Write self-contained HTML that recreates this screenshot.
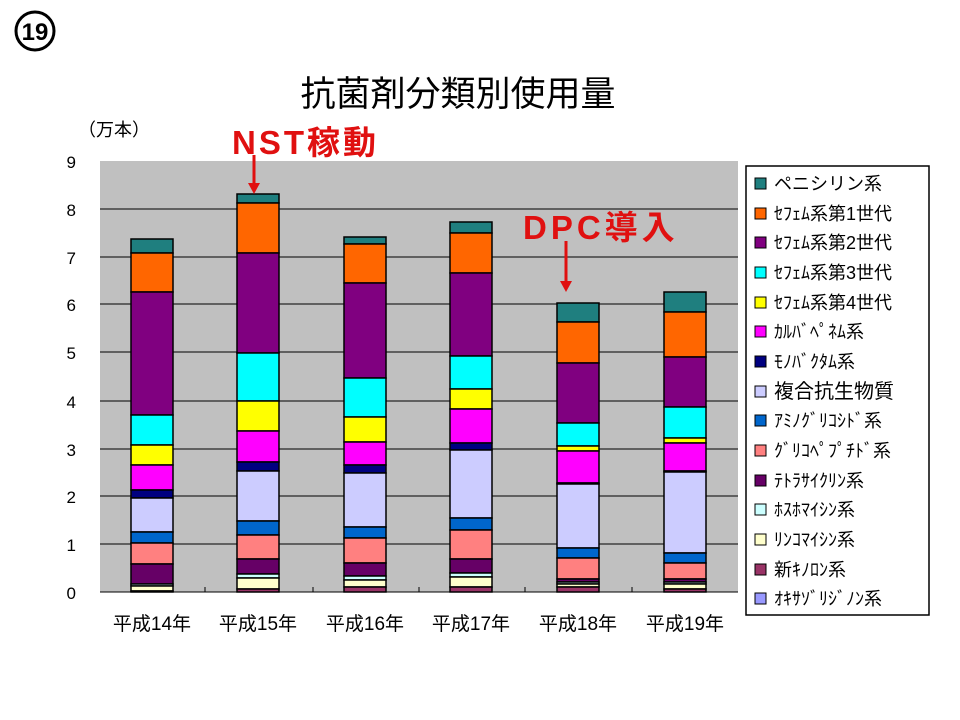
<!DOCTYPE html>
<html><head><meta charset="utf-8"><style>
html,body{margin:0;padding:0;background:#fff;}
svg{display:block;font-family:"Liberation Sans","Noto Sans CJK JP",sans-serif;}
</style></head><body>
<svg width="960" height="720" viewBox="0 0 960 720" xmlns="http://www.w3.org/2000/svg">
<circle cx="35" cy="31" r="19" fill="none" stroke="#000" stroke-width="3"/>
<text x="35" y="40" font-size="24" font-weight="bold" text-anchor="middle">19</text>
<text x="458" y="106" font-size="35" text-anchor="middle">抗菌剤分類別使用量</text>
<text x="78" y="136" font-size="18">（万本）</text>
<rect x="100" y="161" width="638" height="431" fill="#c0c0c0"/>
<g stroke="#000" stroke-width="1">
<line x1="100" y1="209" x2="738" y2="209"/><line x1="100" y1="257" x2="738" y2="257"/>
<line x1="100" y1="304" x2="738" y2="304"/><line x1="100" y1="352" x2="738" y2="352"/>
<line x1="100" y1="401" x2="738" y2="401"/><line x1="100" y1="449" x2="738" y2="449"/>
<line x1="100" y1="496" x2="738" y2="496"/><line x1="100" y1="544" x2="738" y2="544"/>
<line x1="100" y1="592" x2="738" y2="592"/>
<line x1="205" y1="587" x2="205" y2="592"/><line x1="313" y1="587" x2="313" y2="592"/><line x1="419" y1="587" x2="419" y2="592"/><line x1="525" y1="587" x2="525" y2="592"/><line x1="632" y1="587" x2="632" y2="592"/>
</g>
<g font-size="17" text-anchor="end">
<text x="76" y="168">9</text><text x="76" y="216">8</text><text x="76" y="264">7</text><text x="76" y="311">6</text><text x="76" y="359">5</text><text x="76" y="408">4</text><text x="76" y="456">3</text><text x="76" y="503">2</text><text x="76" y="551">1</text><text x="76" y="599">0</text>
</g>
<g font-size="19" text-anchor="middle">
<text x="152" y="630">平成14年</text><text x="258" y="630">平成15年</text><text x="365" y="630">平成16年</text><text x="471" y="630">平成17年</text><text x="578" y="630">平成18年</text><text x="685" y="630">平成19年</text>
</g>
<g stroke="#000" stroke-width="1.5">
<g transform="translate(131,0)">
<rect y="239" width="42" height="14" fill="#1f7f7f"/><rect y="253" width="42" height="39" fill="#ff6600"/><rect y="292" width="42" height="123" fill="#800080"/><rect y="415" width="42" height="30" fill="#00ffff"/><rect y="445" width="42" height="20" fill="#ffff00"/><rect y="465" width="42" height="25" fill="#ff00ff"/><rect y="490" width="42" height="8" fill="#000080"/><rect y="498" width="42" height="34" fill="#ccccff"/><rect y="532" width="42" height="11" fill="#0066cc"/><rect y="543" width="42" height="21" fill="#ff8080"/><rect y="564" width="42" height="20" fill="#660066"/><rect y="584" width="42" height="2" fill="#ccffff"/><rect y="586" width="42" height="5" fill="#ffffcc"/><rect y="591" width="42" height="1" fill="#993366"/>
</g>
<g transform="translate(237,0)">
<rect y="194" width="42" height="9" fill="#1f7f7f"/><rect y="203" width="42" height="50" fill="#ff6600"/><rect y="253" width="42" height="100" fill="#800080"/><rect y="353" width="42" height="48" fill="#00ffff"/><rect y="401" width="42" height="30" fill="#ffff00"/><rect y="431" width="42" height="31" fill="#ff00ff"/><rect y="462" width="42" height="9" fill="#000080"/><rect y="471" width="42" height="50" fill="#ccccff"/><rect y="521" width="42" height="14" fill="#0066cc"/><rect y="535" width="42" height="24" fill="#ff8080"/><rect y="559" width="42" height="15" fill="#660066"/><rect y="574" width="42" height="4" fill="#ccffff"/><rect y="578" width="42" height="11" fill="#ffffcc"/><rect y="589" width="42" height="3" fill="#993366"/>
</g>
<g transform="translate(344,0)">
<rect y="237" width="42" height="7" fill="#1f7f7f"/><rect y="244" width="42" height="39" fill="#ff6600"/><rect y="283" width="42" height="95" fill="#800080"/><rect y="378" width="42" height="39" fill="#00ffff"/><rect y="417" width="42" height="25" fill="#ffff00"/><rect y="442" width="42" height="23" fill="#ff00ff"/><rect y="465" width="42" height="8" fill="#000080"/><rect y="473" width="42" height="54" fill="#ccccff"/><rect y="527" width="42" height="11" fill="#0066cc"/><rect y="538" width="42" height="25" fill="#ff8080"/><rect y="563" width="42" height="13" fill="#660066"/><rect y="576" width="42" height="4" fill="#ccffff"/><rect y="580" width="42" height="7" fill="#ffffcc"/><rect y="587" width="42" height="5" fill="#993366"/>
</g>
<g transform="translate(450,0)">
<rect y="222" width="42" height="11" fill="#1f7f7f"/><rect y="233" width="42" height="40" fill="#ff6600"/><rect y="273" width="42" height="83" fill="#800080"/><rect y="356" width="42" height="33" fill="#00ffff"/><rect y="389" width="42" height="20" fill="#ffff00"/><rect y="409" width="42" height="34" fill="#ff00ff"/><rect y="443" width="42" height="7" fill="#000080"/><rect y="450" width="42" height="68" fill="#ccccff"/><rect y="518" width="42" height="12" fill="#0066cc"/><rect y="530" width="42" height="29" fill="#ff8080"/><rect y="559" width="42" height="14" fill="#660066"/><rect y="573" width="42" height="4" fill="#ccffff"/><rect y="577" width="42" height="10" fill="#ffffcc"/><rect y="587" width="42" height="5" fill="#993366"/>
</g>
<g transform="translate(557,0)">
<rect y="303" width="42" height="19" fill="#1f7f7f"/><rect y="322" width="42" height="41" fill="#ff6600"/><rect y="363" width="42" height="60" fill="#800080"/><rect y="423" width="42" height="23" fill="#00ffff"/><rect y="446" width="42" height="5" fill="#ffff00"/><rect y="451" width="42" height="32" fill="#ff00ff"/><rect y="483" width="42" height="1" fill="#000080"/><rect y="484" width="42" height="64" fill="#ccccff"/><rect y="548" width="42" height="10" fill="#0066cc"/><rect y="558" width="42" height="21" fill="#ff8080"/><rect y="579" width="42" height="3" fill="#660066"/><rect y="582" width="42" height="2" fill="#ccffff"/><rect y="584" width="42" height="3" fill="#ffffcc"/><rect y="587" width="42" height="5" fill="#993366"/>
</g>
<g transform="translate(664,0)">
<rect y="292" width="42" height="20" fill="#1f7f7f"/><rect y="312" width="42" height="45" fill="#ff6600"/><rect y="357" width="42" height="50" fill="#800080"/><rect y="407" width="42" height="31" fill="#00ffff"/><rect y="438" width="42" height="5" fill="#ffff00"/><rect y="443" width="42" height="28" fill="#ff00ff"/><rect y="471" width="42" height="1" fill="#000080"/><rect y="472" width="42" height="81" fill="#ccccff"/><rect y="553" width="42" height="10" fill="#0066cc"/><rect y="563" width="42" height="16" fill="#ff8080"/><rect y="579" width="42" height="3" fill="#660066"/><rect y="582" width="42" height="2" fill="#ccffff"/><rect y="584" width="42" height="5" fill="#ffffcc"/><rect y="589" width="42" height="3" fill="#993366"/>
</g>
</g>
<text x="232" y="154" font-size="33" font-weight="bold" fill="#e01010" letter-spacing="3">NST稼動</text>
<line x1="254" y1="155" x2="254" y2="184" stroke="#e01010" stroke-width="3"/>
<polygon points="248,183 260,183 254,194" fill="#e01010"/>
<text x="523" y="239" font-size="33" font-weight="bold" fill="#e01010" letter-spacing="4">DPC導入</text>
<line x1="566" y1="241" x2="566" y2="282" stroke="#e01010" stroke-width="3"/>
<polygon points="560,281 572,281 566,292" fill="#e01010"/>
<rect x="746" y="166" width="183" height="449" fill="#fff" stroke="#000" stroke-width="1.5"/>
<g stroke="#000" stroke-width="1">
<rect x="755" y="178" width="11" height="11" fill="#1f7f7f"/><rect x="755" y="208" width="11" height="11" fill="#ff6600"/><rect x="755" y="237" width="11" height="11" fill="#800080"/><rect x="755" y="267" width="11" height="11" fill="#00ffff"/><rect x="755" y="297" width="11" height="11" fill="#ffff00"/><rect x="755" y="326" width="11" height="11" fill="#ff00ff"/><rect x="755" y="356" width="11" height="11" fill="#000080"/><rect x="755" y="386" width="11" height="11" fill="#ccccff"/><rect x="755" y="415" width="11" height="11" fill="#0066cc"/><rect x="755" y="445" width="11" height="11" fill="#ff8080"/><rect x="755" y="475" width="11" height="11" fill="#660066"/><rect x="755" y="504" width="11" height="11" fill="#ccffff"/><rect x="755" y="534" width="11" height="11" fill="#ffffcc"/><rect x="755" y="564" width="11" height="11" fill="#993366"/><rect x="755" y="593" width="11" height="11" fill="#9999ff"/>
</g>
<g font-size="18">
<text x="774" y="190">ペニシリン系</text><text x="774" y="220">ｾﾌｪﾑ系第1世代</text><text x="774" y="249">ｾﾌｪﾑ系第2世代</text><text x="774" y="279">ｾﾌｪﾑ系第3世代</text><text x="774" y="309">ｾﾌｪﾑ系第4世代</text><text x="774" y="338">ｶﾙﾊﾞﾍﾟﾈﾑ系</text><text x="774" y="368">ﾓﾉﾊﾞｸﾀﾑ系</text><text x="774" y="398" font-size="20">複合抗生物質</text><text x="774" y="427">ｱﾐﾉｸﾞﾘｺｼﾄﾞ系</text><text x="774" y="457">ｸﾞﾘｺﾍﾟﾌﾟﾁﾄﾞ系</text><text x="774" y="487">ﾃﾄﾗｻｲｸﾘﾝ系</text><text x="774" y="516">ﾎｽﾎﾏｲｼﾝ系</text><text x="774" y="546">ﾘﾝｺﾏｲｼﾝ系</text><text x="774" y="576">新ｷﾉﾛﾝ系</text><text x="774" y="605">ｵｷｻｿﾞﾘｼﾞﾉﾝ系</text>
</g>
</svg>
</body></html>
